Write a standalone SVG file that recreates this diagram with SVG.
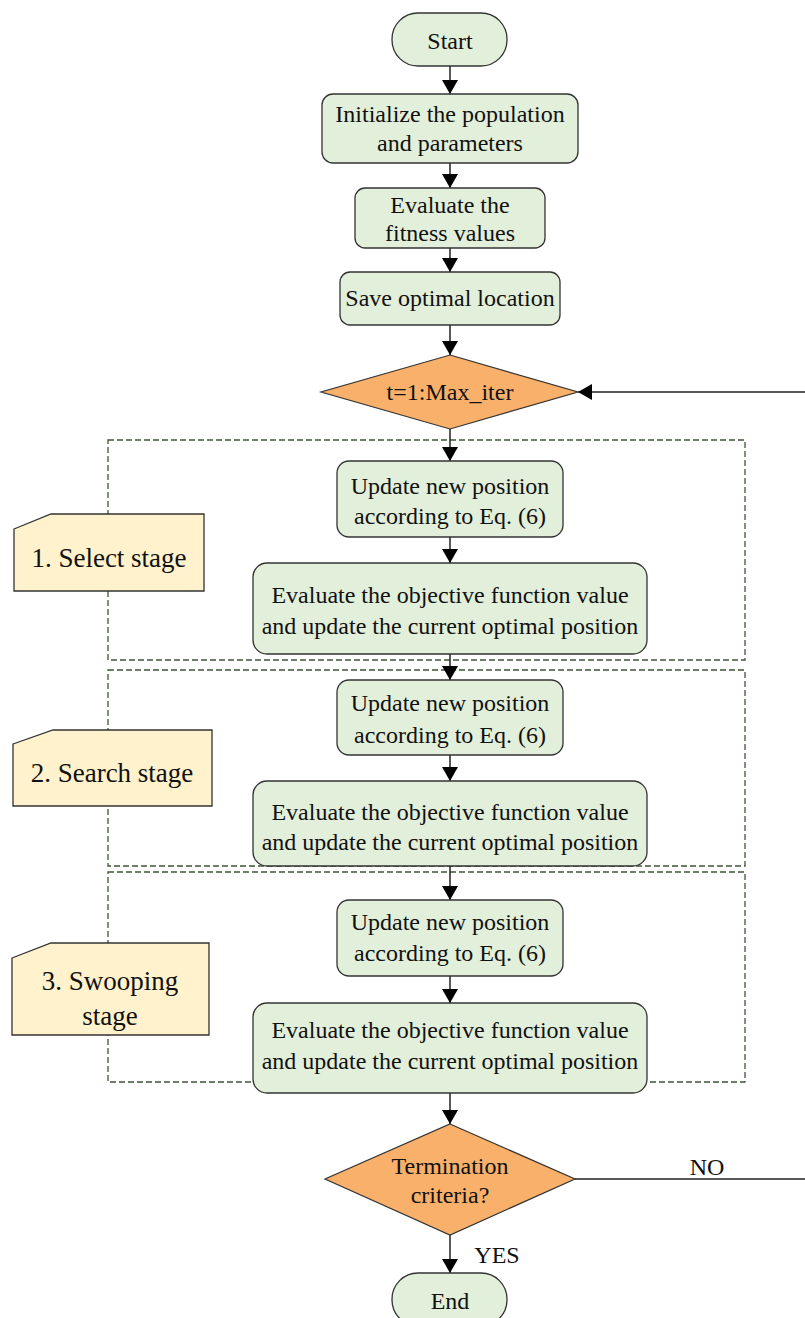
<svg xmlns="http://www.w3.org/2000/svg" width="805" height="1318" viewBox="0 0 805 1318">
<defs>
<style>
.box{fill:#e2efda;stroke:#333;stroke-width:1.3}
.dia{fill:#f8b06a;stroke:#333;stroke-width:1.2}
.note{fill:#fff2cc;stroke:#333;stroke-width:1.3}
.stage{fill:none;stroke:#3f5538;stroke-width:1.3;stroke-dasharray:6 3}
.t{font-family:"Liberation Serif","Times New Roman",serif;font-size:24px;fill:#111;text-anchor:middle}
.s{font-family:"Liberation Serif","Times New Roman",serif;font-size:27px;fill:#111;text-anchor:middle}
.c{fill:none;stroke:#222;stroke-width:1.5}
</style>
<marker id="ah" markerWidth="14" markerHeight="16" refX="14" refY="8" orient="auto" markerUnits="userSpaceOnUse" viewBox="0 0 14 16">
<path d="M0,0 L14,8 L0,16 Z" fill="#000"/>
</marker>
</defs>
<rect width="805" height="1318" fill="#fff"/>

<g id="stages">
<rect class="stage" x="108" y="440" width="637" height="220"/>
<rect class="stage" x="108" y="670" width="637" height="196"/>
<rect class="stage" x="108" y="872" width="637" height="210"/>
</g>

<g id="connectors">
<line class="c" x1="450" y1="66" x2="450" y2="94" marker-end="url(#ah)"/>
<line class="c" x1="450" y1="163" x2="450" y2="188" marker-end="url(#ah)"/>
<line class="c" x1="450" y1="248" x2="450" y2="272" marker-end="url(#ah)"/>
<line class="c" x1="450" y1="325" x2="450" y2="355" marker-end="url(#ah)"/>
<line class="c" x1="450" y1="429" x2="450" y2="461" marker-end="url(#ah)"/>
<line class="c" x1="450" y1="537" x2="450" y2="563" marker-end="url(#ah)"/>
<line class="c" x1="450" y1="654" x2="450" y2="680" marker-end="url(#ah)"/>
<line class="c" x1="450" y1="755" x2="450" y2="781" marker-end="url(#ah)"/>
<line class="c" x1="450" y1="866" x2="450" y2="900" marker-end="url(#ah)"/>
<line class="c" x1="450" y1="976" x2="450" y2="1003" marker-end="url(#ah)"/>
<line class="c" x1="450" y1="1093" x2="450" y2="1124" marker-end="url(#ah)"/>
<line class="c" x1="450" y1="1235" x2="450" y2="1273" marker-end="url(#ah)"/>
<path class="c" d="M575,1179 H812 V392 H578" marker-end="url(#ah)"/>
<text class="t" x="707" y="1175">NO</text>
<text class="t" x="497" y="1263">YES</text>
</g>

<g id="start">
<rect class="box" x="392" y="13" width="115" height="53" rx="26" ry="26"/>
<text class="t" x="450" y="49">Start</text>
</g>
<g id="init">
<rect class="box" x="322" y="94" width="256" height="69" rx="11" ry="11"/>
<text class="t" x="450" y="122">Initialize the population</text>
<text class="t" x="450" y="151">and parameters</text>
</g>
<g id="fitness">
<rect class="box" x="355" y="188" width="190" height="60" rx="10" ry="10"/>
<text class="t" x="450" y="213">Evaluate the</text>
<text class="t" x="450" y="241">fitness values</text>
</g>
<g id="save">
<rect class="box" x="340" y="272" width="220" height="53" rx="10" ry="10"/>
<text class="t" x="450" y="306">Save optimal location</text>
</g>
<g id="loop">
<polygon class="dia" points="450,355 578,392 450,429 321,392"/>
<text class="t" x="450" y="400">t=1:Max_iter</text>
</g>

<g id="note1">
<path class="note" d="M14,529 L51,514 H204 V591 H14 Z"/>
<text class="s" x="109" y="567">1. Select stage</text>
</g>
<g id="update1">
<rect class="box" x="337" y="461" width="226" height="76" rx="12" ry="12"/>
<text class="t" x="450" y="494">Update new position</text>
<text class="t" x="450" y="524">according to Eq. (6)</text>
</g>
<g id="eval1">
<rect class="box" x="253" y="563" width="394" height="91" rx="14" ry="14"/>
<text class="t" x="450" y="603">Evaluate the objective function value</text>
<text class="t" x="450" y="634">and update the current optimal position</text>
</g>

<g id="note2">
<path class="note" d="M13,744 L53,730 H212 V806 H13 Z"/>
<text class="s" x="112" y="782">2. Search stage</text>
</g>
<g id="update2">
<rect class="box" x="337" y="680" width="226" height="75" rx="12" ry="12"/>
<text class="t" x="450" y="711">Update new position</text>
<text class="t" x="450" y="743">according to Eq. (6)</text>
</g>
<g id="eval2">
<rect class="box" x="253" y="781" width="394" height="85" rx="14" ry="14"/>
<text class="t" x="450" y="820">Evaluate the objective function value</text>
<text class="t" x="450" y="850">and update the current optimal position</text>
</g>

<g id="note3">
<path class="note" d="M12,958 L51,943 H209 V1035 H12 Z"/>
<text class="s" x="110" y="990">3. Swooping</text>
<text class="s" x="110" y="1025">stage</text>
</g>
<g id="update3">
<rect class="box" x="337" y="900" width="226" height="76" rx="12" ry="12"/>
<text class="t" x="450" y="930">Update new position</text>
<text class="t" x="450" y="961">according to Eq. (6)</text>
</g>
<g id="eval3">
<rect class="box" x="253" y="1003" width="394" height="90" rx="14" ry="14"/>
<text class="t" x="450" y="1038">Evaluate the objective function value</text>
<text class="t" x="450" y="1069">and update the current optimal position</text>
</g>

<g id="term">
<polygon class="dia" points="450,1124 575,1179 450,1235 325,1179"/>
<text class="t" x="450" y="1174">Termination</text>
<text class="t" x="450" y="1203">criteria?</text>
</g>
<g id="end">
<rect class="box" x="392" y="1273" width="115" height="53" rx="26" ry="26"/>
<text class="t" x="450" y="1309">End</text>
</g>
</svg>
